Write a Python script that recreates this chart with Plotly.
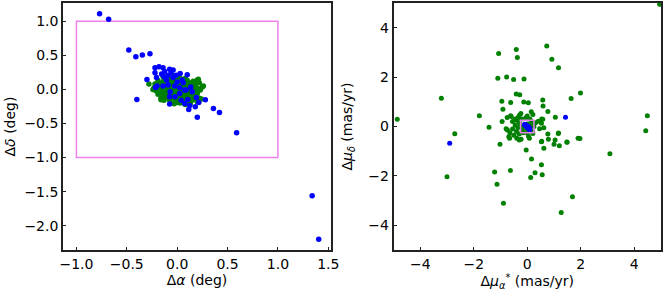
import plotly.graph_objects as go
from plotly.subplots import make_subplots

# ---------- Left panel: positions (deg) ----------
green_ra = [-0.14, -0.09, -0.03, 0.02, 0.08,
            -0.19, -0.13, -0.08, -0.02, 0.04, 0.10, 0.16, 0.20,
            -0.22, -0.17, -0.11, -0.05, 0.01, 0.06, 0.12, 0.18, 0.22,
            -0.23, -0.18, -0.12, -0.07, -0.01, 0.05, 0.10, 0.15, 0.20, 0.25,
            -0.21, -0.15, -0.10, -0.04, 0.02, 0.07, 0.13, 0.18, 0.23,
            -0.19, -0.13, -0.08, -0.02, 0.04, 0.09, 0.15, 0.20,
            -0.16, -0.11, -0.05, 0.01, 0.06, 0.12, 0.17, 0.22,
            -0.13, -0.07, -0.01, 0.05, 0.10, 0.15, 0.20,
            -0.03, 0.03, 0.08, 0.13,
            -0.11, -0.05, 0.05, -0.15, -0.10, 0.00, 0.07, 0.14,
            -0.20, -0.14, -0.08, -0.03, 0.03, 0.09, 0.16,
            -0.16, -0.09, -0.04, 0.04, 0.12, 0.18,
            -0.17, -0.11, -0.06, 0.00, 0.06, 0.11, 0.17,
            -0.14, -0.08, -0.02, 0.04, 0.10, 0.15,
            -0.08, -0.02, 0.04, 0.09, 0.14, 0.00, 0.06,
            -0.28, -0.24, 0.24, -0.16, 0.21, 0.26]
green_dec = [0.19, 0.18, 0.20, 0.17, 0.16,
             0.13, 0.14, 0.12, 0.14, 0.12, 0.13, 0.12, 0.14,
             0.08, 0.07, 0.09, 0.08, 0.07, 0.09, 0.07, 0.08, 0.10,
             0.02, 0.03, 0.04, 0.02, 0.03, 0.04, 0.02, 0.03, 0.02, 0.035,
             -0.02, -0.03, -0.01, -0.02, -0.03, -0.01, -0.02, -0.03, -0.01,
             -0.07, -0.06, -0.08, -0.07, -0.06, -0.08, -0.07, -0.06,
             -0.13, -0.11, -0.12, -0.13, -0.11, -0.12, -0.12, -0.13,
             -0.16, -0.17, -0.16, -0.18, -0.17, -0.16, -0.18,
             -0.21, -0.20, -0.22, -0.21,
             0.16, 0.15, 0.15, 0.10, 0.11, 0.10, 0.11, 0.10,
             0.05, 0.06, 0.05, 0.06, 0.05, 0.05, 0.06,
             0.00, 0.01, 0.00, 0.00, 0.00, 0.01,
             -0.05, -0.04, -0.05, -0.05, -0.04, -0.05, -0.05,
             -0.09, -0.10, -0.10, -0.09, -0.10, -0.10,
             -0.14, -0.15, -0.14, -0.14, -0.14, -0.19, -0.19,
             0.08, 0.00, -0.14, -0.15, 0.15, 0.05]

blue_ra = [-0.77, -0.68, -0.48, -0.41, -0.345, -0.27, -0.40, -0.30,
           1.34, 1.405, 0.59, 0.42, 0.36, 0.28, 0.20, 0.215, 0.18, 0.125, 0.115,
           0.19, 0.15, 0.135, 0.10, 0.03, -0.04, -0.075, -0.14, -0.18, -0.22,
           -0.22, -0.205, -0.20, -0.215, -0.14, -0.09, -0.025, -0.07, -0.075,
           -0.075, -0.02, 0.025, 0.04, 0.075, 0.105, 0.075, 0.00, 0.05, -0.13,
           -0.105, -0.04, -0.01, 0.025, 0.09, -0.09, -0.155, -0.125, -0.06, 0.06]
blue_dec = [1.11, 1.03, 0.58, 0.48, 0.505, 0.525, -0.147, 0.147,
            -1.56, -2.20, -0.634, -0.34, -0.28, -0.15, -0.41, -0.19, -0.255, -0.236, -0.295,
            -0.12, -0.035, 0.035, 0.215, 0.235, 0.285, 0.295, 0.32, 0.334, 0.32,
            0.245, 0.177, 0.05, 0.03, 0.05, 0.065, 0.05, -0.035, -0.108,
            -0.215, -0.108, -0.06, -0.157, -0.205, -0.147, -0.01, 0.108, 0.138, 0.187,
            0.138, 0.177, 0.21, 0.025, -0.01, 0.21, 0.225, 0.265, 0.25, 0.10]

# ---------- Right panel: proper motions (mas/yr) ----------
green_pmra = [4.95, 0.73, -0.41, -1.07, -0.37, 0.92, 1.17, -0.77, -1.10, -0.51, -0.12,
              1.99, 1.64, -3.21, -0.41, -0.28, -0.95, -0.62, -0.13, 0.04, 0.58, 0.59,
              0.77, -0.91, -1.79, -4.86, 4.49, 1.05, 0.54, 4.43, 3.09, 1.97, 1.49,
              1.17, 1.20, 1.00, 0.79, 0.62, 0.54, 0.53, 0.56, 0.16, 0.29, 0.13,
              -0.04, 1.69, 1.27, -1.43, -2.71, -3.00, -1.02, -1.22, -1.13, -0.63,
              -0.89, -0.94, -0.75, -0.62, -0.74, -0.69, -0.66,
              -0.60, -0.45, -0.30, -0.24, 0.15, 0.21, 0.00, 0.58, -0.55, -0.40,
              -0.30, -0.45, -0.35, -0.55, -0.40, -0.30, -0.50, -0.23, -0.39, 0.04,
              0.08, 0.21, 0.46, 0.41, 0.53, 0.62, 0.31, -0.20, 0.10, 0.00, -0.15,
              0.20, 0.15, -0.10, 0.10, 0.00, 0.00, -0.25, 0.25, -0.65, 0.77, 1.04,
              -0.79, 0.53, -0.30, 1.16, -0.05, 1.90, -0.35, 1.48, -0.18, 0.18]
green_pmdec = [4.95, 3.26, 3.12, 2.96, 2.79, 2.72, 2.38, 2.00, 1.95, 1.90, 1.92,
               1.36, 1.13, 1.14, 1.32, 1.29, 1.02, 0.97, 0.99, 0.96, 1.07, 0.83,
               0.61, 0.70, 0.44, 0.29, 0.44, 0.37, 0.30, -0.17, -1.10, -0.49, -0.64,
               -0.26, -0.78, -0.72, -0.52, -0.88, -0.60, -1.55, -1.95, -1.32, -1.87, -2.06,
               -0.95, -2.84, -3.48, -0.03, -0.29, -2.03, -0.72, -1.84, -2.34, -1.78,
               -3.11, 0.20, 0.36, 0.44, -0.14, -0.41, -0.48,
               0.40, 0.30, 0.45, 0.53, 0.60, 0.49, 0.43, 0.29, 0.20, 0.25,
               0.15, 0.05, -0.05, -0.10, -0.20, -0.30, -0.35, -0.52, -0.48, -0.38,
               -0.48, -0.28, -0.09, 0.21, 0.13, -0.05, 0.15, 0.30, 0.30, -0.25, -0.25,
               -0.20, 0.20, 0.00, 0.00, 0.10, -0.10, 0.00, 0.00, -0.25, -0.30, -0.55,
               -0.09, -0.62, -0.55, -0.28, 0.35, -0.48, 0.35, -0.63, -0.15, 0.15]

blue_pmra = [-2.90, 1.43,
             -0.10, -0.085, -0.07, -0.055, -0.04, -0.025, -0.01, 0.005, 0.02, 0.035,
             0.05, 0.065, 0.08, 0.095, -0.08, -0.05, -0.03, 0.00, 0.03, 0.06, 0.07,
             0.09, -0.09, 0.01, 0.04, -0.06]
blue_pmdec = [-0.68, 0.37,
              0.09, 0.075, 0.06, 0.04, 0.025, 0.01, -0.005, -0.02, -0.04, -0.055,
              -0.07, -0.085, -0.10, -0.12, 0.05, 0.07, 0.00, 0.03, -0.06, -0.03, -0.11,
              -0.07, 0.07, -0.04, -0.01, 0.06]

# selection boxes
box_pos = [-1.0, 1.0]
box_pm = [-0.25, 0.25]

GREEN = "#008000"
BLUE = "#0000ff"
VIOLET = "#ee82ee"
MS = 5.5

fig = make_subplots(rows=1, cols=2)

fig.add_trace(go.Scatter(x=green_ra, y=green_dec, mode="markers",
                         marker=dict(color=GREEN, size=MS), showlegend=False), 1, 1)
fig.add_trace(go.Scatter(x=blue_ra, y=blue_dec, mode="markers",
                         marker=dict(color=BLUE, size=MS), showlegend=False), 1, 1)
fig.add_trace(go.Scatter(x=green_pmra, y=green_pmdec, mode="markers",
                         marker=dict(color=GREEN, size=5), showlegend=False), 1, 2)
fig.add_trace(go.Scatter(x=blue_pmra, y=blue_pmdec, mode="markers",
                         marker=dict(color=BLUE, size=5), showlegend=False), 1, 2)

fig.add_shape(type="rect", xref="x", yref="y", x0=box_pos[0], x1=box_pos[1],
              y0=box_pos[0], y1=box_pos[1], line=dict(color=VIOLET, width=1.5), layer="below")
fig.add_shape(type="rect", xref="x2", yref="y2", x0=box_pm[0], x1=box_pm[1],
              y0=box_pm[0], y1=box_pm[1], line=dict(color=VIOLET, width=1.5), layer="above")

FONT = dict(family="DejaVu Sans", size=14, color="black")
axis_common = dict(showgrid=False, zeroline=False, showline=True, mirror=True,
                   linecolor="#222222", linewidth=1.6, ticks="inside", ticklen=3.5,
                   tickwidth=1, tickcolor="#222222", tickfont=FONT, automargin=False)

W, H = 664, 295
ml, mr, mt, mb = 63, 3, 3, 45
pw = W - ml - mr
fig.update_layout(
    width=W, height=H, margin=dict(l=ml, r=mr, t=mt, b=mb),
    paper_bgcolor="white", plot_bgcolor="white", font=FONT,
    xaxis=dict(domain=[0, (331 - ml) / pw], range=[-1.133, 1.527],
               tickvals=[-1.0, -0.5, 0.0, 0.5, 1.0, 1.5], tickformat=".1f",
               title=dict(text="Δ<i>α</i> (deg)", font=FONT, standoff=4), **axis_common),
    yaxis=dict(range=[-2.357, 1.269],
               tickvals=[-2.0, -1.5, -1.0, -0.5, 0.0, 0.5, 1.0], tickformat=".1f",
               title=dict(text="Δ<i>δ</i> (deg)", font=FONT, standoff=6), **axis_common),
    xaxis2=dict(domain=[(393.5 - ml) / pw, 1], range=[-5, 5],
                tickvals=[-4, -2, 0, 2, 4],
                title=dict(text="Δ<i>μ</i><sub><i>α</i></sub><sup>*</sup> (mas/yr)", font=FONT, standoff=2),
                **axis_common),
    yaxis2=dict(range=[-5, 5], tickvals=[-4, -2, 0, 2, 4],
                title=dict(text="Δ<i>μ</i><sub><i>δ</i></sub> (mas/yr)", font=FONT, standoff=12),
                **axis_common),
)

fig.write_html("out.html", config={"displayModeBar": False},
               post_script="document.body.style.margin='0';document.body.style.overflow='hidden';")
